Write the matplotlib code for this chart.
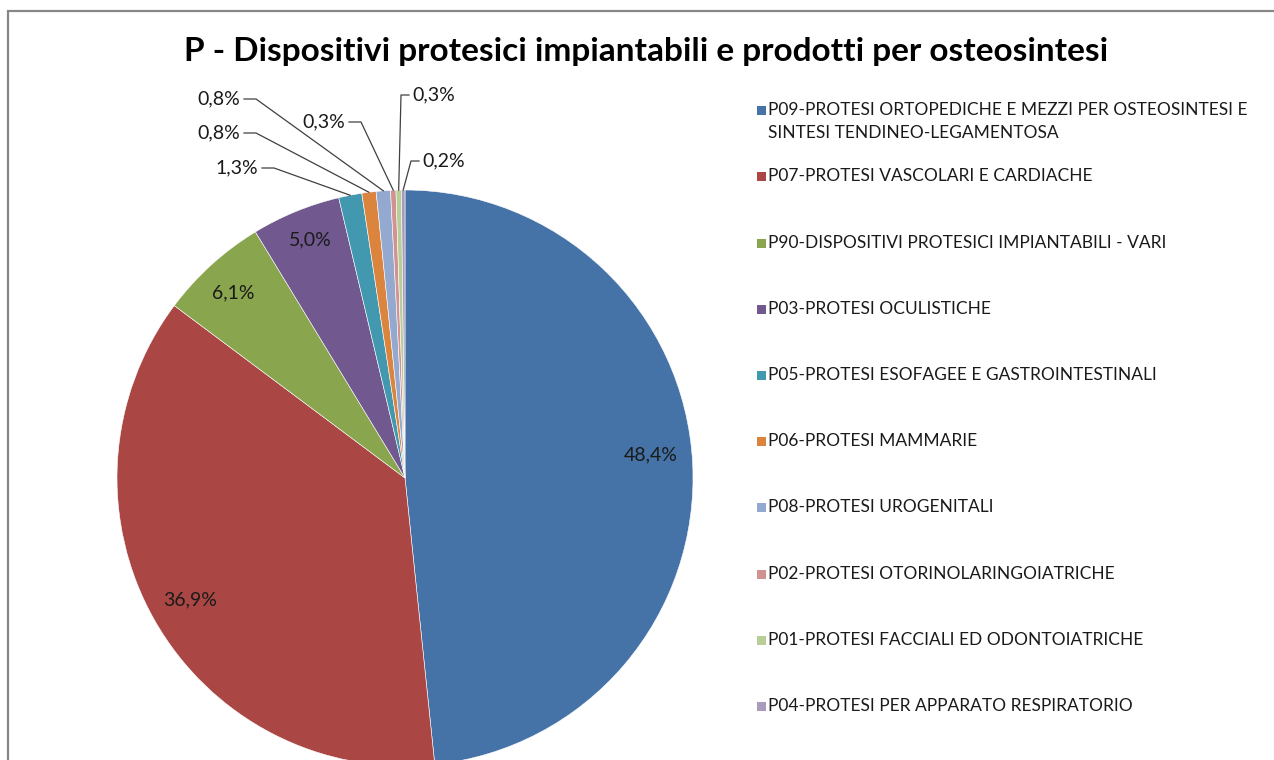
import numpy as np
import matplotlib.pyplot as plt
from matplotlib.patches import Rectangle

plt.rcParams['font.family'] = ['Lato', 'DejaVu Sans']

# data
codes = ['P09-PROTESI ORTOPEDICHE E MEZZI PER OSTEOSINTESI E\nSINTESI TENDINEO-LEGAMENTOSA',
         'P07-PROTESI VASCOLARI E CARDIACHE',
         'P90-DISPOSITIVI PROTESICI IMPIANTABILI - VARI',
         'P03-PROTESI OCULISTICHE',
         'P05-PROTESI ESOFAGEE E GASTROINTESTINALI',
         'P06-PROTESI MAMMARIE',
         'P08-PROTESI UROGENITALI',
         'P02-PROTESI OTORINOLARINGOIATRICHE',
         'P01-PROTESI FACCIALI ED ODONTOIATRICHE',
         'P04-PROTESI PER APPARATO RESPIRATORIO']
shares = [48.4, 36.9, 6.1, 5.0, 1.3, 0.8, 0.8, 0.3, 0.3, 0.2]
colors = ['#4572A7', '#AA4643', '#89A54E', '#71588F', '#4198AF',
          '#DB843D', '#93A9CF', '#D19392', '#B9CD96', '#A99BBD']

W, H = 1274, 760
fig = plt.figure(figsize=(W / 100, H / 100), dpi=100)
ax = fig.add_axes([0, 0, 1, 1])

# frame of the chart area (cut at right and bottom)
ax.add_patch(Rectangle((8, -20), W + 40, H - 11 + 20, fill=False,
                       edgecolor='#878787', lw=1.6, clip_on=False))

cx, cy, r = 405, H - 478, 288
wedges, _ = ax.pie(shares, colors=colors, startangle=90, counterclock=False,
                   center=(cx, cy), radius=r, frame=True,
                   wedgeprops=dict(linewidth=0.4, edgecolor='white'))
ax.set_xlim(0, W)
ax.set_ylim(0, H)
ax.set_aspect('equal')
ax.axis('off')

def lbl(v):
    return f'{v:.1f}%'.replace('.', ',')

fs_lab = 14

# labels inside the big slices (pixel positions of text centre)
inside = {0: (651, 455), 1: (190, 600), 2: (233, 293), 3: (310, 240)}
for i, (px, py) in inside.items():
    ax.text(px, H - py, lbl(shares[i]), ha='center', va='center',
            fontsize=fs_lab, color='#1a1a1a')

# callout labels for the small slices: text anchor, side
callouts = {4: (258, 168, 'r'), 5: (240, 133, 'r'), 6: (240, 99, 'r'),
            7: (345, 122, 'r'), 8: (412, 95, 'l'), 9: (422, 161, 'l')}
for i, (px, py, side) in callouts.items():
    w = wedges[i]
    mid = np.deg2rad((w.theta1 + w.theta2) / 2)
    ex, ey = cx + r * np.cos(mid), cy + r * np.sin(mid)
    ty = H - py
    if side == 'r':
        ax.text(px, ty, lbl(shares[i]), ha='right', va='center',
                fontsize=fs_lab, color='#1a1a1a')
        x0 = px + 4
        ax.plot([x0, x0 + 12, ex], [ty, ty, ey], color='#404040', lw=0.9)
    else:
        ax.text(px, ty, lbl(shares[i]), ha='left', va='center',
                fontsize=fs_lab, color='#1a1a1a')
        x0 = px - 3
        ax.plot([x0, x0 - 8, ex], [ty, ty, ey], color='#404040', lw=0.9)

# title
ax.text(646, H - 52, 'P - Dispositivi protesici impiantabili e prodotti per osteosintesi',
        ha='center', va='center', fontsize=24, fontweight='bold')

# legend
ly = [110, 176, 243, 309, 375, 441, 507, 574, 640, 706]
for i, name in enumerate(codes):
    yy = H - ly[i]
    ax.add_patch(Rectangle((757, yy - 4.5), 9, 9, facecolor=colors[i], edgecolor='none'))
    for j, part in enumerate(name.split('\n')):
        ax.text(768, yy - 23 * j, part, ha='left', va='center',
                fontsize=12.5, color='#1a1a1a')

fig.savefig('out.png', dpi=100)
